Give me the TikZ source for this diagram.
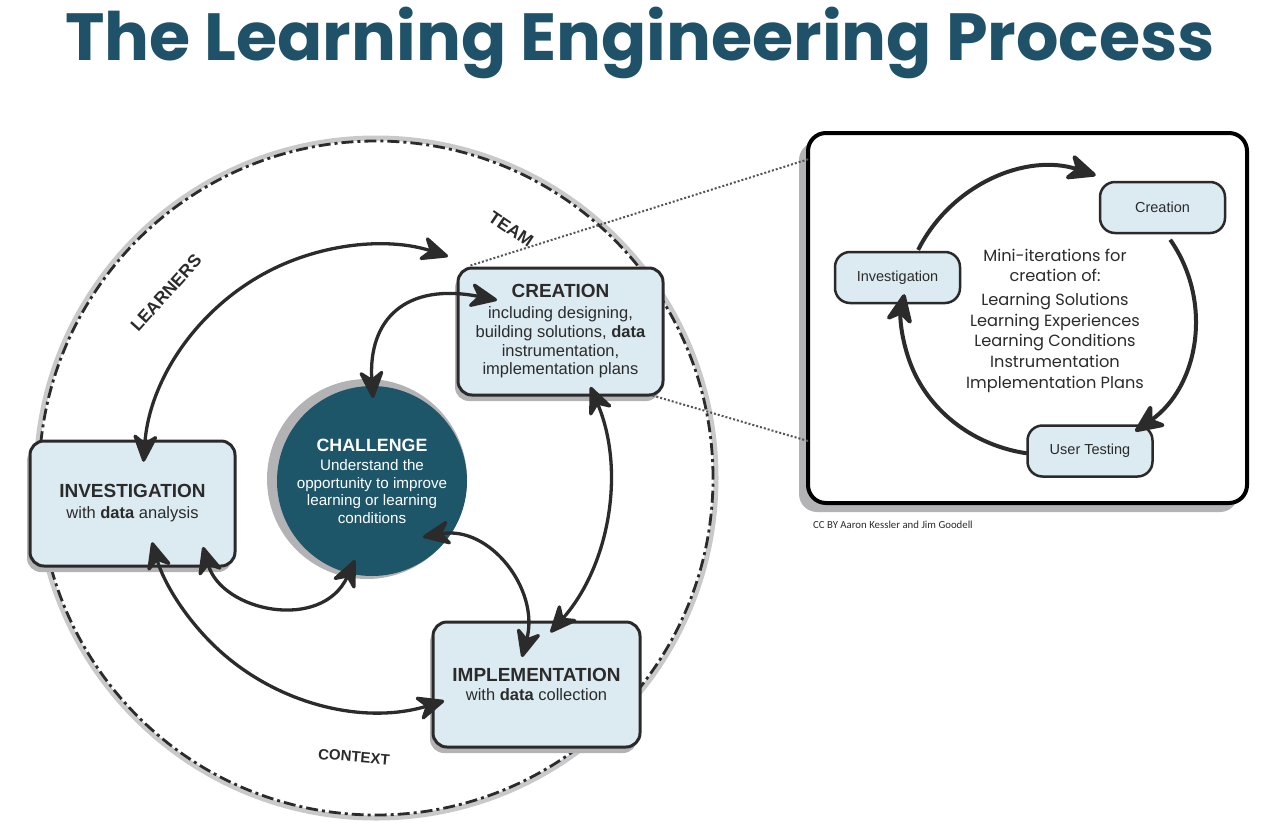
\documentclass[tikz,border=0pt]{standalone}
\usepackage{fontspec}
\setmainfont{Liberation Sans}
\newfontfamily\titlefont{Poppins}
\newfontfamily\minifont{Poppins}
\newfontfamily\credfont{Carlito}
\usetikzlibrary{arrows.meta,calc,shadows}
\definecolor{titlec}{HTML}{1F5268}
\definecolor{chalc}{HTML}{1D5569}
\definecolor{boxfill}{HTML}{DCEAF2}
\definecolor{boxline}{HTML}{2A2A2A}
\definecolor{arrc}{HTML}{2B2B2B}
\definecolor{txtc}{HTML}{2B2B2B}
\definecolor{shadc}{HTML}{B3B3B5}
\definecolor{bandc}{HTML}{C9C9CB}
\definecolor{dotc}{HTML}{555555}
\tikzset{
  bigarr/.style={draw=arrc, line width=3.3pt,
    arrows={Stealth[length=32pt,width=28pt,inset=10pt,round]-Stealth[length=32pt,width=28pt,inset=10pt,round]}},
  miniarr/.style={draw=arrc, line width=4pt,
    arrows={-Stealth[length=34pt,width=30pt,inset=10pt,round]}},
  bigbox/.style={rounded corners=14pt, draw=boxline, line width=3pt, fill=boxfill,
    minimum width=205pt, minimum height=125pt, align=center, inner sep=0pt, text=txtc,
    drop shadow={shadow xshift=-3pt, shadow yshift=-6pt, fill=shadc, opacity=1},
    font=\fontsize{16.5}{18.7}\selectfont},
  minibox/.style={rounded corners=15pt, draw=boxline, line width=2.5pt, fill=boxfill,
    minimum width=125pt, minimum height=51pt, inner sep=0pt, text=txtc,
    font=\fontsize{14.5}{16}\selectfont},
  ringlabel/.style={text=txtc, font=\bfseries\fontsize{17.5}{19}\selectfont, inner sep=0pt},
  dotline/.style={draw=dotc, line width=2pt, dash pattern=on 2pt off 2pt},
}
\begin{document}
\begin{tikzpicture}[x=1pt,y=1pt]
\useasboundingbox (0,0) rectangle (1265,-822);
% title
\node[anchor=base, text=titlec, inner sep=0pt] (title) at (640,-60)
  {\titlefont\bfseries\fontsize{66.7}{70}\selectfont The Learning Engineering Process};
% outer circle
\coordinate (c0) at (376,-478);
\draw[bandc, line width=5pt] (c0) circle[radius=340];
\draw[arrc, line width=2.8pt, dash pattern=on 12pt off 4pt on 3pt off 4pt] (c0) circle[radius=337];
% right panel
\node[rounded corners=18pt, draw=black, line width=4pt, fill=white,
  minimum width=439pt, minimum height=370pt,
  drop shadow={shadow xshift=-9pt, shadow yshift=-9pt, fill=shadc, opacity=1}]
  (panel) at (1027.5,-318) {};
% challenge
\fill[shadc] (367,-479) circle[radius=100];
\node[circle, fill=chalc, minimum size=190pt, inner sep=0pt, text=white, align=center,
  font=\fontsize{15.2}{17.4}\selectfont] (chal) at (372,-481)
  {{\bfseries\fontsize{17.8}{20}\selectfont CHALLENGE}\\[2.4pt]
   Understand the\\ opportunity to improve\\ learning or learning\\ conditions};
% boxes
\node[bigbox] (inv) at (132.5,-503.5)
  {{\bfseries\fontsize{19}{21}\selectfont INVESTIGATION}\\[2.3pt] with \textbf{data} analysis};
\node[bigbox, minimum height=127pt] (cre) at (560.5,-331.5)
  {{\bfseries\fontsize{19}{21}\selectfont CREATION}\\[2.3pt] including designing,\\ building solutions, \textbf{data}\\ instrumentation,\\ implementation plans};
\node[bigbox, minimum width=207pt] (imp) at (536.5,-684.5)
  {{\bfseries\fontsize{19}{21}\selectfont IMPLEMENTATION}\\[0.3pt] with \textbf{data} collection};
% dotted zoom lines
\coordinate (creTL) at ($(cre.north west)+(14,1)$);
\coordinate (creBR) at ($(cre.south east)+(-12,1)$);
\coordinate (panTL) at (809,-159);
\coordinate (panBL) at (808,-441);
\draw[dotline] (creTL) -- (panTL);
\draw[dotline] (creBR) -- (panBL);
% labels
\node[ringlabel, rotate=48] (learners) at (166,-293) {LEARNERS};
\node[ringlabel, rotate=-34] (team) at (511,-229) {TEAM};
\node[ringlabel, rotate=-5, font=\bfseries\fontsize{15}{17}\selectfont] (context) at (354,-757) {CONTEXT};
% big arcs
\coordinate (aInv) at ($(c0)+(176:233)$);
\coordinate (aCre) at ($(c0)+(23:233)$);
\coordinate (aImp) at ($(c0)+(-73:233)$);
\draw[bigarr] (aInv) arc[start angle=176, end angle=72, radius=233];
\draw[bigarr] (aCre) arc[start angle=23, end angle=-41.5, radius=233];
\draw[bigarr] (aImp) arc[start angle=-73, end angle=-164, radius=233];
% inner arrows
\coordinate (chTop) at (373,-398);
\coordinate (creLeft) at (497,-300);
\coordinate (chRight) at (423,-537);
\coordinate (impTop) at (522,-657);
\coordinate (invBot) at (203,-547);
\coordinate (chBot) at (355,-560);
\draw[bigarr] (chTop) .. controls (368,-320) and (405,-282) .. (creLeft);
\draw[bigarr] (chRight) .. controls (490,-525) and (540,-590) .. (impTop);
\draw[bigarr] (invBot) .. controls (222,-612) and (322,-632) .. (chBot);
% mini panel
\node[minibox] (mcre) at (1162.5,-207.5) {Creation};
\node[minibox] (minv) at (897.5,-277.5) {Investigation};
\node[minibox] (mtest) at (1090,-451) {User Testing};
\coordinate (mc) at (1050,-318);
\coordinate (m1s) at ($(mc)+({148*cos(153)},{150*sin(153)})$);
\coordinate (m2s) at ($(mc)+({145*cos(34)},{140*sin(34)})$);
\coordinate (m3s) at ($(mc)+({148*cos(261)},{137*sin(261)})$);
\draw[miniarr] (m1s) arc[start angle=153, end angle=72, x radius=148, y radius=150];
\draw[miniarr] (m2s) arc[start angle=34, end angle=-54, x radius=145, y radius=140];
\draw[miniarr] (m3s) arc[start angle=261, end angle=170, x radius=148, y radius=137];
\node[align=center, text=txtc, inner sep=0pt, font=\minifont\fontsize{16.2}{20.7}\selectfont] (minitext) at (1055,-321)
  {Mini-iterations for\\[-1.2pt] creation of:\\[3.3pt] Learning Solutions\\ Learning Experiences\\ Learning Conditions\\ Instrumentation\\ Implementation Plans};
\node[anchor=west, text=txtc, inner sep=0pt, font=\credfont\fontsize{10.8}{12}\selectfont] (credit) at (813,-525)
  {CC BY Aaron Kessler and Jim Goodell};
\end{tikzpicture}
\end{document}
